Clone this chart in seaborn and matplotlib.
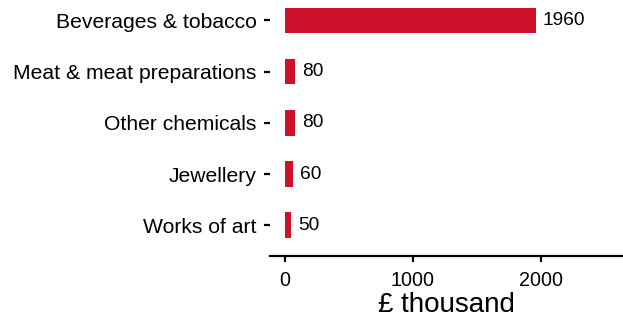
import pandas as pd
import matplotlib.pyplot as plt
import seaborn as sns

categories = ["Beverages & tobacco", "Meat & meat preparations", "Other chemicals",
              "Jewellery", "Works of art"]
values = [1960, 80, 80, 60, 50]
x_ticks = [0, 1000, 2000]

df = pd.DataFrame({"category": categories, "value": values})

sns.set_theme(style="white")
plt.rcParams['font.family'] = ['Liberation Sans', 'DejaVu Sans']

fig = plt.figure(figsize=(6.23, 3.19), dpi=100)
ax = fig.add_axes([270 / 623, 1 - 256 / 319, 352 / 623, 256 / 319])

sns.barplot(data=df, x="value", y="category", color="#D0112B", width=0.5,
            saturation=1, linewidth=0, ax=ax)

for i, v in enumerate(values):
    ax.annotate(str(v), (v, i), xytext=(5, 0), textcoords="offset points",
                va="center", ha="left", fontsize=13.8, color="black")

ax.set_xlim(-117, 2633)
ax.set_ylim(4.6, -0.4)
ax.set_xticks(x_ticks)
ax.set_xlabel("£ thousand", fontsize=20, labelpad=1, color="black")
ax.set_ylabel("")

for s in ["top", "right", "left"]:
    ax.spines[s].set_visible(False)
ax.spines["bottom"].set_linewidth(1.6)
ax.spines["bottom"].set_color("black")

ax.tick_params(axis="y", left=True, length=4.5, width=1.6, color="black",
               labelsize=15.2, pad=5, labelcolor="black")
ax.tick_params(axis="x", bottom=True, length=4.5, width=1.6, color="black",
               labelsize=14.2, pad=6.5, labelcolor="black")

fig.savefig("out.png", dpi=100)
